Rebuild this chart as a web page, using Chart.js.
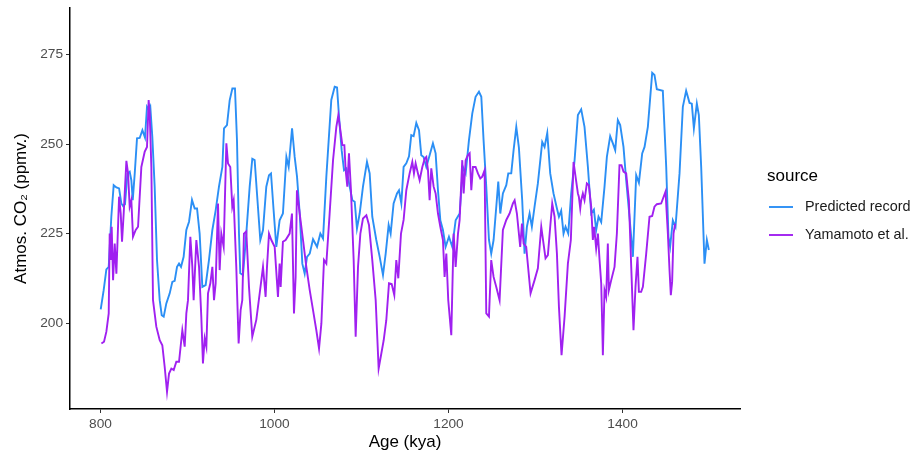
<!DOCTYPE html>
<html>
<head>
<meta charset="utf-8">
<title>Atmos. CO2</title>
<script src="https://cdn.jsdelivr.net/npm/chart.js@4"></script>
<style>
  body { margin: 0; background: #fff; }
  #wrap { width: 912px; height: 454px; }
</style>
</head>
<body>
<div id="wrap"><canvas id="myChart" width="912" height="454"></canvas></div>
<script>
// donnees
/******************************************/
let seriesNames = ['Predicted record', 'Yamamoto et al.'];
let seriesColors = ['#2B8FF5', '#A020F0'];
let xTicks = [800, 1000, 1200, 1400];
let yTicks = [200, 225, 250, 275];

let predictedAge = [800.3,803.7,806.8,809.5,812.5,815.2,818.3,821.4,824.0,826.0,828.2,831.0,833.6,835.5,837.1,839.4,842.0,845.1,848.2,851.2,
  853.5,855.8,857.3,859.6,862.3,865.0,868.1,870.4,872.7,875.7,879.6,882.6,885.3,888.0,890.3,892.6,895.6,898.7,901.8,905.2,
  908.3,911.0,914.0,917.1,920.9,924.7,928.6,932.4,936.2,940.1,942.0,945.4,948.5,951.6,954.6,956.9,959.2,960.7,963.8,967.6,
  971.5,974.5,977.2,979.9,983.7,986.8,990.6,993.7,996.0,999.0,1002.1,1005.9,1009.7,1013.7,1016.3,1020.2,1023.2,1025.9,1029.0,1032.0,
  1034.7,1037.4,1040.5,1044.3,1048.9,1052.7,1055.8,1059.6,1065.3,1069.2,1071.9,1074.2,1077.2,1079.9,1082.6,1086.4,1089.5,1092.2,1094.8,1097.9,
  1101.7,1106.3,1109.4,1112.4,1117.0,1120.9,1124.7,1127.8,1131.2,1133.5,1136.9,1140.8,1143.1,1145.8,1148.4,1151.5,1154.6,1157.2,1159.9,1163.0,
  1166.1,1168.7,1171.4,1174.5,1178.3,1182.1,1185.2,1187.9,1190.6,1193.6,1196.7,1200.5,1204.3,1208.2,1212.8,1216.6,1219.7,1223.5,1227.3,1231.1,
  1235.0,1237.7,1240.3,1243.4,1246.5,1249.1,1251.8,1254.9,1257.2,1259.5,1262.5,1266.4,1268.7,1272.1,1274.8,1277.9,1280.9,1284.7,1287.4,1290.1,
  1293.2,1295.8,1298.9,1302.7,1307.7,1310.4,1313.5,1316.9,1320.7,1324.6,1326.9,1329.5,1332.2,1334.5,1337.6,1341.0,1344.9,1348.7,1352.5,1356.3,
  1360.2,1364.0,1367.1,1369.7,1372.4,1375.5,1379.3,1382.0,1385.8,1388.9,1391.6,1394.6,1397.3,1401.1,1404.2,1408.0,1411.9,1415.7,1418.8,1422.6,
  1425.3,1429.1,1434.1,1436.7,1439.4,1446.3,1450.2,1452.8,1454.7,1457.8,1460.9,1465.5,1469.3,1473.1,1477.0,1479.6,1482.0,1485.4,1487.7,1490.4,
  1494.2,1496.9,1499.2];
let predictedCO2 = [203.8,209.2,215.0,215.7,229.7,238.5,237.9,237.6,233.4,232.7,233.2,241.8,242.3,239.9,234.3,241.8,251.6,251.7,253.9,251.8,
  260.4,259.5,260.4,252.0,238.1,217.6,206.4,202.2,201.8,205.5,208.3,211.5,211.8,215.7,216.6,215.7,218.5,226.0,228.3,234.4,
  232.0,232.0,225.0,210.1,210.6,217.6,226.0,231.5,238.1,243.6,254.4,255.3,262.2,265.5,265.5,251.1,225.0,213.9,213.4,225.0,
  238.1,245.9,245.5,236.2,223.2,226.0,238.1,241.3,241.8,231.5,221.3,228.7,230.6,246.4,243.6,254.4,246.4,240.9,230.6,216.6,
  213.8,218.5,219.4,223.4,221.3,225.0,223.6,240.9,262.3,266.0,265.8,257.6,248.3,242.7,243.2,238.1,234.3,233.9,226.4,230.6,
  238.1,245.0,241.8,229.7,223.2,218.5,213.4,219.4,227.4,225.0,233.4,236.2,237.1,233.4,243.6,244.6,246.6,252.5,252.2,255.9,
  253.9,246.9,246.4,243.6,246.9,250.2,247.4,237.1,228.7,226.0,221.3,224.1,221.3,228.7,230.6,243.6,241.8,251.1,258.5,263.2,
  264.6,263.2,251.1,238.1,223.2,219.4,223.2,232.5,239.5,230.6,236.2,238.5,241.8,241.8,248.3,254.8,249.0,234.3,219.4,226.9,
  230.6,226.9,232.5,239.0,250.6,249.2,253.1,241.8,236.2,232.0,229.7,231.4,225.0,226.9,225.0,236.2,245.5,258.1,259.7,254.8,
  243.6,230.6,231.7,226.0,229.7,228.2,238.1,246.4,252.2,250.2,248.3,256.7,255.3,249.2,239.9,229.7,218.5,241.3,239.2,247.4,
  249.2,254.8,269.9,269.3,265.3,264.9,243.6,224.1,221.3,228.7,226.9,241.8,260.4,264.9,261.5,261.3,254.4,261.3,258.1,243.6,
  216.6,223.2,220.4];

let yamamotoAge = [801.1,804.1,806.8,809.5,810.6,811.8,812.9,814.5,816.4,818.3,821.4,823.3,824.8,826.7,829.8,831.7,833.6,835.5,837.4,840.5,
  843.2,847.0,850.8,853.5,855.4,856.6,858.5,860.4,864.2,868.1,871.1,873.8,876.5,878.8,881.5,884.2,887.2,890.3,894.1,896.8,
  898.7,900.6,903.3,905.6,907.1,910.2,913.3,915.9,917.8,919.8,921.7,923.6,926.3,928.6,930.5,932.4,935.1,937.0,938.9,941.6,
  944.7,946.6,949.2,951.5,953.1,956.1,958.8,961.1,963.0,964.9,967.6,970.7,974.5,979.1,983.0,986.8,989.8,991.4,993.7,996.4,
  1000.2,1004.0,1005.9,1007.1,1009.7,1012.8,1017.4,1020.1,1022.4,1024.3,1025.8,1029.0,1032.8,1036.6,1040.5,1044.3,1048.1,1051.2,1053.9,1056.9,
  1059.6,1063.4,1067.3,1071.1,1073.4,1075.7,1078.0,1080.3,1081.8,1083.7,1085.6,1087.9,1091.0,1093.3,1096.0,1098.7,1101.7,1105.6,1108.6,1112.4,
  1116.3,1119.7,1122.8,1125.5,1128.5,1131.6,1134.7,1137.7,1140.0,1142.3,1145.4,1148.4,1151.5,1155.3,1158.4,1160.3,1162.2,1164.9,1166.8,1169.9,
  1172.6,1174.5,1176.4,1178.3,1180.2,1182.9,1185.2,1187.9,1190.6,1193.6,1195.5,1197.5,1199.7,1203.2,1205.9,1208.2,1210.9,1212.8,1215.8,1217.4,
  1219.7,1222.3,1224.3,1226.2,1228.1,1231.1,1233.8,1236.5,1238.8,1241.5,1243.4,1246.5,1249.1,1251.8,1254.9,1258.7,1262.5,1266.4,1270.2,1274.0,
  1276.0,1278.6,1282.4,1284.4,1286.3,1289.3,1294.3,1298.9,1302.7,1306.6,1309.2,1311.5,1314.2,1316.9,1319.2,1321.9,1324.6,1326.9,1329.9,1333.4,
  1337.2,1340.6,1342.2,1343.7,1346.0,1348.7,1349.8,1351.4,1352.5,1354.4,1356.3,1359.0,1361.3,1364.0,1365.9,1367.4,1369.7,1371.7,1373.6,1375.5,
  1376.6,1377.4,1379.3,1381.2,1383.1,1384.3,1387.0,1390.8,1393.5,1396.5,1398.8,1401.1,1404.2,1407.3,1410.0,1412.6,1414.9,1417.2,1418.8,1421.4,
  1423.4,1427.2,1431.0,1434.1,1436.7,1439.4,1444.4,1449.4,1452.1,1454.0,1455.5,1457.0,1458.6,1460.5];
let yamamotoCO2 = [194.3,194.8,197.6,202.7,225.0,217.6,226.9,212.0,222.2,213.8,235.3,230.6,222.7,230.6,245.3,241.8,232.5,234.3,224.1,226.0,
  226.9,243.6,247.8,249.2,262.3,258.5,243.6,206.4,199.0,195.2,193.8,187.8,180.8,185.9,187.3,186.9,189.2,189.2,198.0,193.4,
  202.7,206.4,224.1,215.7,206.4,223.2,215.7,201.8,188.7,195.7,193.4,208.3,211.1,215.7,206.4,211.1,233.4,214.8,225.0,221.3,
  250.2,244.6,243.6,232.5,234.3,215.7,194.3,203.6,206.4,225.0,225.6,210.1,196.2,200.9,208.3,215.7,207.3,215.7,225.0,223.2,
  221.3,207.3,216.6,210.1,222.7,223.2,225.0,230.6,202.7,212.9,237.1,230.6,223.2,215.7,209.2,203.6,198.0,192.9,199.9,217.6,
  216.6,230.6,245.5,254.8,258.1,253.9,249.7,249.7,242.7,238.1,247.4,237.1,217.6,196.2,215.7,225.0,229.2,230.1,227.4,217.6,
  206.4,187.3,191.5,195.2,200.8,211.1,210.9,207.8,217.6,212.5,225.0,228.8,237.1,241.8,245.0,241.8,244.6,241.8,239.9,243.6,
  245.9,246.4,242.7,234.3,243.2,238.1,236.2,230.6,226.9,223.2,212.9,219.4,206.4,196.6,225.0,215.7,225.0,228.8,245.5,236.2,
  245.5,246.9,247.4,237.1,243.6,243.6,241.8,240.4,240.9,242.7,202.7,201.8,217.6,212.9,210.1,206.4,226.0,228.8,230.6,233.4,
  234.3,230.6,221.3,227.8,222.2,221.3,208.3,212.0,215.3,226.9,222.2,218.1,219.0,226.9,233.4,229.7,219.4,204.6,191.0,201.8,
  216.6,223.2,234.3,245.0,240.9,236.2,235.3,232.0,234.3,236.2,234.3,239.0,238.5,232.5,223.2,226.9,220.8,225.0,217.6,211.1,
  200.0,191.0,209.2,207.3,222.2,209.2,212.0,215.7,225.0,244.1,244.1,242.3,241.8,234.3,215.7,198.0,210.1,218.5,208.7,208.7,
  210.1,219.4,229.7,229.9,232.5,233.2,233.4,236.7,225.0,214.8,207.8,211.5,225.0,227.8];
/******************************************/

function toPoints(xs, ys){
    let pts = [];
    for(let i=0;i<xs.length;i++){
        pts.push({x: xs[i], y: ys[i]});
    }
    return pts;
}

Chart.defaults.font.family = '"Liberation Sans", Arial, sans-serif';
Chart.defaults.color = '#4d4d4d';

// legende a droite, dessinee a la main (style ggplot)
let sourceLegend = {
    id: 'sourceLegend',
    afterDraw(chart){
        let ctx = chart.ctx;
        ctx.save();
        ctx.textBaseline = 'middle';
        ctx.fillStyle = '#000';
        ctx.font = '17px "Liberation Sans", Arial, sans-serif';
        ctx.fillText('source', 767, 176);
        ctx.font = '14.4px "Liberation Sans", Arial, sans-serif';
        for(let i=0;i<seriesNames.length;i++){
            let y = 207 + i*28;
            ctx.strokeStyle = seriesColors[i];
            ctx.lineWidth = 1.9;
            ctx.beginPath();
            ctx.moveTo(769, y);
            ctx.lineTo(793, y);
            ctx.stroke();
            ctx.fillStyle = '#1a1a1a';
            ctx.fillText(seriesNames[i], 805, y);
        }
        ctx.restore();
    }
};

let ctx = document.getElementById('myChart').getContext('2d');
let myChart = new Chart(ctx, {
    type: 'scatter',
    data: {
        datasets: [{
            label: seriesNames[0],
            data: toPoints(predictedAge, predictedCO2),
            borderColor: seriesColors[0],
            backgroundColor: seriesColors[0],
            showLine: true,
            pointRadius: 0,
            borderWidth: 1.9,
            tension: 0,
            order: 1
        },{
            label: seriesNames[1],
            data: toPoints(yamamotoAge, yamamotoCO2),
            borderColor: seriesColors[1],
            backgroundColor: seriesColors[1],
            showLine: true,
            pointRadius: 0,
            borderWidth: 1.9,
            tension: 0,
            order: 0
        }]
    },
    options: {
        responsive: false,
        animation: false,
        devicePixelRatio: 1,
        layout: { padding: { left: 0, right: 172, top: 8, bottom: 0 } },
        plugins: {
            legend: { display: false },
            tooltip: { enabled: false }
        },
        scales: {
            x: {
                type: 'linear',
                min: 765,
                max: 1535,
                afterBuildTicks: s => { s.ticks = xTicks.map(v => ({value: v})); },
                afterFit: s => { s.height = 45; s.paddingLeft = 0; s.paddingRight = 0; },
                border: { color: '#000', width: 1.5 },
                grid: { drawOnChartArea: false, drawTicks: true, tickLength: 4, color: '#333' },
                ticks: { color: '#4d4d4d', font: { size: 13.7 }, padding: 3, maxRotation: 0, callback: v => String(v) },
                title: { display: true, text: 'Age (kya)', color: '#000', font: { size: 17, lineHeight: 1.2 }, padding: { top: 0, bottom: 1 } }
            },
            y: {
                type: 'linear',
                min: 176,
                max: 288,
                afterBuildTicks: s => { s.ticks = yTicks.map(v => ({value: v})); },
                afterFit: s => { s.width = 70; s.paddingTop = 0; s.paddingBottom = 0; },
                border: { color: '#000', width: 1.5 },
                grid: { drawOnChartArea: false, drawTicks: true, tickLength: 4, color: '#333' },
                ticks: { color: '#4d4d4d', font: { size: 13.7 }, padding: 3, callback: v => String(v) },
                title: { display: true, text: 'Atmos. CO₂ (ppmv.)', color: '#000', font: { size: 17, lineHeight: 1.2 }, padding: { top: 11, bottom: 0 } }
            }
        }
    },
    plugins: [sourceLegend]
});
</script>
</body>
</html>
